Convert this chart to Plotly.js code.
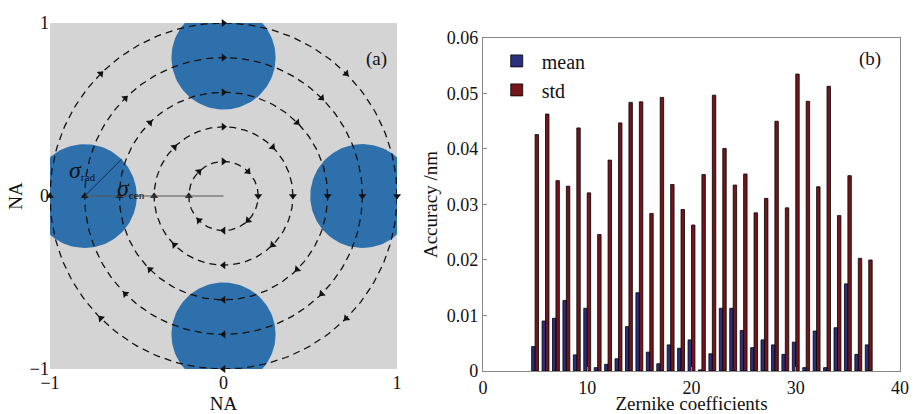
<!DOCTYPE html>
<html>
<head>
<meta charset="utf-8">
<script src="https://cdn.plot.ly/plotly-3.0.1.min.js"></script>
<style>html,body{margin:0;padding:0;background:#fff;}#chart{width:914px;height:414px;}</style>
</head>
<body>
<div id="chart"></div>
<script>
// ---- Panel (a): illumination pupil geometry ----
const ringRadii = [0.2, 0.4, 0.6, 0.8, 1.0];
const poleCentersX = [0, 0.8, 0, -0.8];
const poleCentersY = [0.8, 0, -0.8, 0];
const poleRadius = 0.3;
const arrowAnglesDeg = [0, 45, 90, 135, 180, 225, 270, 315];

// ---- Panel (b): Zernike accuracy ----
const zernikeIndex = [5,6,7,8,9,10,11,12,13,14,15,16,17,18,19,20,21,22,23,24,25,26,27,28,29,30,31,32,33,34,35,36,37];
const meanValues = [0.0044,0.0090,0.0095,0.0127,0.0029,0.0113,0.0006,0.0012,0.0022,0.0080,0.0141,0.0034,0.0013,0.0047,0.0041,0.0056,0.0002,0.0031,0.0113,0.0113,0.0073,0.0042,0.0056,0.0047,0.0030,0.0052,0.0006,0.0072,0.0006,0.0078,0.0157,0.0030,0.0047];
const stdValues = [0.0426,0.0463,0.0343,0.0333,0.0438,0.0321,0.0246,0.0380,0.0447,0.0484,0.0485,0.0284,0.0493,0.0336,0.0291,0.0263,0.0354,0.0497,0.0401,0.0335,0.0355,0.0285,0.0311,0.0450,0.0294,0.0535,0.0486,0.0332,0.0513,0.0280,0.0352,0.0203,0.0200];

const SERIF = '"Liberation Serif", "DejaVu Serif", serif';

function circlePts(cx, cy, r, n) {
  const xs = [], ys = [];
  for (let i = 0; i <= n; i++) {
    const t = 2 * Math.PI * i / n;
    xs.push(cx + r * Math.cos(t));
    ys.push(cy + r * Math.sin(t));
  }
  return {xs, ys};
}

const traces = [];

// blue poles
for (let k = 0; k < poleCentersX.length; k++) {
  const c = circlePts(poleCentersX[k], poleCentersY[k], poleRadius, 120);
  traces.push({
    type: 'scatter', mode: 'lines', x: c.xs, y: c.ys, xaxis: 'x', yaxis: 'y',
    fill: 'toself', fillcolor: 'rgb(46,112,172)', line: {width: 0, color: 'rgb(46,112,172)'},
    hoverinfo: 'skip', showlegend: false
  });
}

// dashed rings
ringRadii.forEach(r => {
  const c = circlePts(0, 0, r, 240);
  traces.push({
    type: 'scatter', mode: 'lines', x: c.xs, y: c.ys, xaxis: 'x', yaxis: 'y',
    line: {color: '#111', width: 1.3, dash: '7px,5px'},
    hoverinfo: 'skip', showlegend: false
  });
});

// clockwise arrows on rings
const ax = [], ay = [], aang = [];
ringRadii.forEach(r => {
  arrowAnglesDeg.forEach(d => {
    const t = d * Math.PI / 180;
    ax.push(r * Math.cos(t));
    ay.push(r * Math.sin(t));
    const dx = Math.sin(t), dy = -Math.cos(t);
    aang.push(Math.atan2(dx, dy) * 180 / Math.PI);
  });
});
traces.push({
  type: 'scatter', mode: 'markers', x: ax, y: ay, xaxis: 'x', yaxis: 'y',
  marker: {symbol: 'triangle-up', size: 7, color: '#111', angle: aang, line: {width: 0}},
  cliponaxis: false, hoverinfo: 'skip', showlegend: false
});

// sigma_cen line (pole centre to origin)
traces.push({
  type: 'scatter', mode: 'lines', x: [poleCentersX[3], 0], y: [poleCentersY[3], 0], xaxis: 'x', yaxis: 'y',
  line: {color: '#555', width: 1.2}, hoverinfo: 'skip', showlegend: false
});
// sigma_rad line (pole centre to rim at 45 deg)
traces.push({
  type: 'scatter', mode: 'lines',
  x: [poleCentersX[3], poleCentersX[3] + poleRadius * Math.cos(Math.PI / 4)],
  y: [poleCentersY[3], poleCentersY[3] + poleRadius * Math.sin(Math.PI / 4)],
  xaxis: 'x', yaxis: 'y',
  line: {color: '#1a2a50', width: 1}, hoverinfo: 'skip', showlegend: false
});

// bars
traces.push({
  type: 'bar', name: 'mean', x: zernikeIndex, y: meanValues, xaxis: 'x2', yaxis: 'y2',
  marker: {color: 'rgb(42,48,128)', line: {color: '#000', width: 0.8}}
});
traces.push({
  type: 'bar', name: 'std', x: zernikeIndex, y: stdValues, xaxis: 'x2', yaxis: 'y2',
  marker: {color: 'rgb(118,20,26)', line: {color: '#000', width: 0.8}}
});

const tickFont = {family: SERIF, size: 18, color: '#111'};
const titleFont = {family: SERIF, size: 19, color: '#111'};

const layout = {
  width: 914, height: 414,
  margin: {l: 0, r: 0, t: 0, b: 0},
  paper_bgcolor: '#fff', plot_bgcolor: 'rgba(0,0,0,0)',
  font: {family: SERIF, size: 17, color: '#111'},
  barmode: 'group', bargap: 0.34, bargroupgap: 0,
  showlegend: true,
  legend: {x: 0.538, y: 0.9, xanchor: 'left', yanchor: 'top', bgcolor: 'rgba(255,255,255,0)',
           font: {family: SERIF, size: 20, color: '#111'}, tracegroupgap: 0, itemwidth: 40},
  xaxis: {domain: [0.0547, 0.4344], range: [-1, 1], tickvals: [-1, 0, 1], ticks: '', showgrid: false,
          zeroline: false, showline: false, tickfont: tickFont, automargin: false, ticklabelstandoff: 1,
          title: {text: 'NA', font: titleFont, standoff: 4}},
  yaxis: {domain: [0.1087, 0.9444], range: [-1, 1], tickvals: [-1, 0, 1], ticks: '', showgrid: false,
          zeroline: false, showline: false, tickfont: tickFont, automargin: false,
          title: {text: 'NA', font: titleFont, standoff: 2}},
  xaxis2: {domain: [0.5284, 0.9847], range: [0, 40], dtick: 10, tick0: 0, ticks: 'inside', ticklen: 4,
           tickcolor: '#888', showgrid: false, zeroline: false, showline: true, mirror: true,
           linecolor: '#888', linewidth: 1, tickfont: tickFont, automargin: false, anchor: 'y2',
           title: {text: 'Zernike coefficients', font: titleFont, standoff: 4}},
  yaxis2: {domain: [0.1039, 0.9082], range: [0, 0.06], dtick: 0.01, tick0: 0, ticks: 'inside', ticklen: 4,
           tickcolor: '#888', showgrid: false, zeroline: false, showline: true, mirror: true,
           linecolor: '#888', linewidth: 1, tickfont: tickFont, automargin: false, anchor: 'x2',
           title: {text: 'Accuracy /nm', font: titleFont, standoff: 4}},
  shapes: [
    {type: 'rect', xref: 'x', yref: 'y', x0: -1, x1: 1, y0: -1, y1: 1, layer: 'below',
     fillcolor: 'rgb(212,212,212)', line: {width: 0}}
  ],
  annotations: [
    {xref: 'x', yref: 'y', x: 0.88, y: 0.79, text: '(a)', showarrow: false, font: {family: SERIF, size: 19, color: '#111'}},
    {xref: 'x2', yref: 'y2', x: 37.1, y: 0.0562, text: '(b)', showarrow: false, font: {family: SERIF, size: 19, color: '#111'}},
    {xref: 'x', yref: 'y', x: -0.9, y: 0.15, xanchor: 'left',
     text: '<span style="font-size:24px"><i>σ</i></span><sub>rad</sub>', showarrow: false,
     font: {family: SERIF, size: 16, color: '#111'}},
    {xref: 'x', yref: 'y', x: -0.625, y: 0.045, xanchor: 'left',
     text: '<span style="font-size:24px"><i>σ</i></span><sub>cen</sub>', showarrow: false,
     font: {family: SERIF, size: 16, color: '#111'}}
  ]
};

Plotly.newPlot('chart', traces, layout, {staticPlot: true, displayModeBar: false});
</script>
</body>
</html>
